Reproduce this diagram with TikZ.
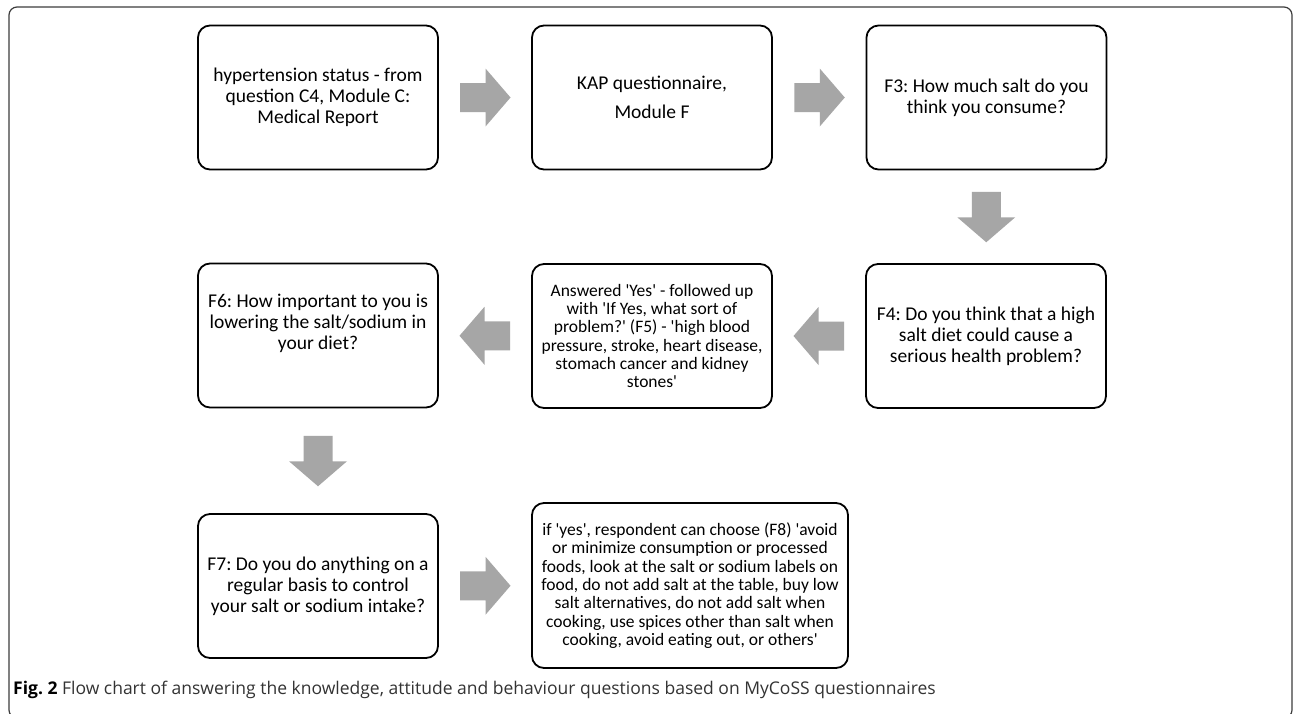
\documentclass[tikz,border=0pt]{standalone}
\usepackage{fontspec}
\setmainfont{Carlito}
\newfontfamily\capfont{Open Sans}
\usetikzlibrary{calc}
\definecolor{arrowgray}{HTML}{A6A6A6}
\definecolor{framegray}{HTML}{3C3C3C}
\definecolor{captext}{HTML}{333333}
\newcommand\sq{\textquotesingle}
\frenchspacing
\tikzset{
  box/.style={draw=black, line width=1.8pt, rounded corners=12pt, align=center, inner sep=0pt,
    minimum width=240pt, minimum height=144pt, font=\fontsize{19.5}{20.8}\selectfont},
  smallbox/.style={box, font=\fontsize{17.5}{18.3}\selectfont},
  blockarrow/.pic={\fill[arrowgray] (-25pt,-14.5pt) -- (0.5pt,-14.5pt) -- (0.5pt,-29pt) -- (25.5pt,0pt) -- (0.5pt,29pt) -- (0.5pt,14.5pt) -- (-25pt,14.5pt) -- cycle;}
}
\begin{document}
\begin{tikzpicture}[x=1pt,y=-1pt]
\useasboundingbox (0,0) rectangle (1293,713);
\clip (0,0) rectangle (1293,713);
\fill[white] (0,0) rectangle (1293,713);
\draw[framegray, line width=1.2pt, rounded corners=8pt] (9,7) rectangle (1292,718);

\node[box] (b1) at (318,97.5) {hypertension status - from\\question C4, Module C:\\Medical Report};
\node[box] (b2) at (652,97.5) {KAP questionnaire,\\[8pt]Module F};
\node[box] (b3) at (986.5,97.5) {F3: How much salt do you\\think you consume?};
\node[box] (f4) at (986,336) {F4: Do you think that a high\\salt diet could cause a\\serious health problem?};
\node[smallbox] (ans) at (652,336) {Answered \sq Yes\sq{} - followed up\\with \sq If Yes, what sort of\\problem?\sq{} (F5) - \sq high blood\\pressure, stroke, heart disease,\\stomach cancer and kidney\\stones\sq};
\node[box, label={[align=center, font=\fontsize{19.5}{20.8}\selectfont, yshift=12pt]center:F6: How important to you is\\lowering the salt/sodium in\\your diet?}] (f6) at (318,335.5) {};
\node[box] (f7) at (318,586) {F7: Do you do anything on a\\regular basis to control\\your salt or sodium intake?};
\node[smallbox, minimum width=316pt, minimum height=165pt] (f8) at (690,585.5) {if \sq yes\sq, respondent can choose (F8) \sq avoid\\or minimize consumption or processed\\foods, look at the salt or sodium labels on\\food, do not add salt at the table, buy low\\salt alternatives, do not add salt when\\cooking, use spices other than salt when\\cooking, avoid eating out, or others\sq};

\pic at ($(b1.east)!0.5!(b2.west)$) {blockarrow};
\pic at ($(b2.east)!0.5!(b3.west)$) {blockarrow};
\pic[rotate=-90] at ($(b3.south)!0.5!(f4.north)$) {blockarrow};
\pic[rotate=180] at ($(f4.west)!0.5!(ans.east)$) {blockarrow};
\pic[rotate=180] at ($(ans.west)!0.5!(f6.east)$) {blockarrow};
\pic[rotate=-90] at ($(f6.south)!0.5!(f7.north)$) {blockarrow};
\pic at ($(f7.east)!0.5!(f8.west)$) {blockarrow};

\node[anchor=west, inner sep=0pt, font=\capfont\fontsize{17.5}{20}\selectfont, text=captext] (cap) at (13,690) {{\color{black}\textbf{Fig. 2}} Flow chart of answering the knowledge, attitude and behaviour questions based on MyCoSS questionnaires};
\end{tikzpicture}
\end{document}
